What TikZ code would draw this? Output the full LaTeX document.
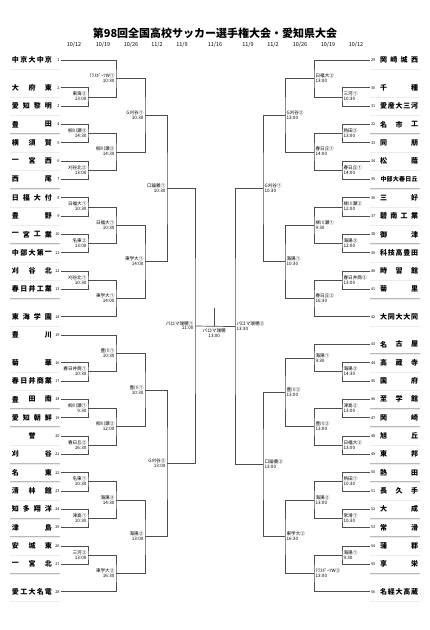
\documentclass[tikz,border=0pt]{standalone}
\usepackage{fontspec}
\setmainfont{Noto Sans CJK JP}
\usetikzlibrary{calc}

% spread the characters of a school name over a fixed width
\newcommand\spreadname[5]{%
  \foreach \c [count=\k] in #5 {\xdef\nch{\k}}
  \ifnum\nch>5 \def\nmsize{6}\else\def\nmsize{7}\fi
  \ifnum\nch=1
    \node[teamname] (#1-1) at ({(#2+#3)/2},#4) {#5};
  \else
    \foreach \c [count=\k] in #5 {
      \node[teamname] (#1-\k) at ({#2+(\k-1)*(#3-#2)/(\nch-1)},#4) {\c};
    }
  \fi
}

% one match: name, x of the joint, upper, lower, venue, time, side (l/r)
\newcommand\bout[7]{%
  \path let \p1=(#3), \p2=(#4) in (#2,{0.5*(\y1+\y2)}) coordinate (#1);
  \draw[bracket] (#3) -| (#1) |- (#4);
  \if#7l
    \node[venue, anchor=south east] (#1-v) at ([xshift=-1pt]#1) {#5};
    \node[venue, anchor=north east] (#1-t) at ([xshift=-1pt]#1) {#6};
  \else
    \node[venue, anchor=south west] (#1-v) at ([xshift=1pt]#1) {#5};
    \node[venue, anchor=north west] (#1-t) at ([xshift=1pt]#1) {#6};
  \fi
}

\begin{document}
\begin{tikzpicture}[
    x=1pt, y=-1pt,
    bracket/.style={draw=black!70, line width=0.7pt},
    teamname/.style={font=\fontsize{\nmsize}{7}\selectfont\bfseries, inner sep=0pt},
    teamno/.style={font=\fontsize{3.8}{4}\selectfont, inner sep=0.3pt},
    venue/.style={font=\fontsize{4.6}{5}\selectfont, inner sep=0.4pt},
    datelbl/.style={font=\fontsize{5.5}{6}\selectfont, inner sep=0pt},
    uline/.style={draw=gray!55, double=gray!15, double distance=0.5pt, line width=0.4pt},
  ]
  \useasboundingbox (0,0) rectangle (430,630);

  % Title and dates
  \node[font=\fontsize{11}{12}\selectfont\bfseries, inner sep=0pt] (title) at (215,33)
    {第98回全国高校サッカー選手権大会・愛知県大会};
  \foreach \d/\dx [count=\i] in {{10/12}/74, {10/19}/103, {10/26}/131, {11/2}/157, {11/9}/182,
      {11/16}/215, {11/9}/248, {11/2}/273, {10/26}/300, {10/19}/328, {10/12}/356} {
    \node[datelbl] (date\i) at (\dx,45) {\d};
  }

  % --- Left block: teams 1-28 ---
  \foreach \n/\s/\nm in {1/-1.5/{中,京,大,中,京}, 2/0/{大,府,東}, 3/1/{愛,知,黎,明},
      4/2/{豊,田}, 5/3/{横,須,賀}, 6/4/{一,宮,西}, 7/5/{西,尾}, 8/6/{日,福,大,付},
      9/7/{豊,野}, 10/8/{一,宮,工,業}, 11/9/{中,部,大,第,一}, 12/10/{刈,谷,北},
      13/11/{春,日,井,工,業}, 14/12.5/{東,海,学,園}, 15/13.5/{豊,川},
      16/15/{菊,華}, 17/16/{春,日,井,商,業}, 18/17/{豊,田,南}, 19/18/{愛,知,朝,鮮},
      20/19/{誉}, 21/20/{刈,谷}, 22/21/{名,東}, 23/22/{清,林,館}, 24/23/{知,多,翔,洋},
      25/24/{津,島}, 26/25/{安,城,東}, 27/26/{一,宮,北}, 28/27.5/{愛,工,大,名,電}} {
    \pgfmathsetmacro\ty{87.7+18.33*\s}
    \spreadname{ln\n}{15.5}{48.5}{\ty}{\nm}
    \node[teamno, anchor=east] (no\n) at (60,\ty) {\n};
    \coordinate (L\n) at (61,\ty);
    \ifnum\n=15 \else
      \draw[uline] (10,{\ty+9.5}) -- (60,{\ty+9.5});
    \fi
  }

  % --- Right block: teams 29-56 ---
  \foreach \n/\s/\nm in {29/-1.5/{岡,崎,城,西}, 30/0/{千,種}, 31/1/{愛,産,大,三,河},
      32/2/{名,市,工}, 33/3/{同,朋}, 34/4/{松,蔭}, 35/5/{中,部,大,春,日,丘},
      36/6/{三,好}, 37/7/{碧,南,工,業}, 38/8/{御,津}, 39/9/{科,技,高,豊,田},
      40/10/{時,習,館}, 41/11/{菊,里}, 42/12.5/{大,同,大,大,同}, 43/14/{名,古,屋},
      44/15/{高,蔵,寺}, 45/16/{国,府}, 46/17/{至,学,館}, 47/18/{岡,崎}, 48/19/{旭,丘},
      49/20/{東,邦}, 50/21/{熱,田}, 51/22/{長,久,手}, 52/23/{大,成}, 53/24/{常,滑},
      54/25/{蒲,郡}, 55/26/{享,栄}, 56/27.5/{名,経,大,高,蔵}} {
    \pgfmathsetmacro\ty{87.7+18.33*\s}
    \spreadname{rn\n}{383.5}{414.5}{\ty}{\nm}
    \node[teamno, anchor=west] (no\n) at (370.5,\ty) {\n};
    \coordinate (R\n) at (369.5,\ty);
    \draw[uline] (370,{\ty+9.5}) -- (420,{\ty+9.5});
  }

  % --- Left bracket ---
  \bout{a23}{88}{L2}{L3}{東海②}{13:00}{l}
  \bout{a45}{88}{L4}{L5}{柳川瀬③}{14:30}{l}
  \bout{a67}{88}{L6}{L7}{刈谷北②}{13:00}{l}
  \bout{a89}{88}{L8}{L9}{日福大①}{10:30}{l}
  \bout{a1011}{88}{L10}{L11}{名東②}{13:00}{l}
  \bout{a1213}{88}{L12}{L13}{刈谷北①}{10:30}{l}
  \bout{a1617}{88}{L16}{L17}{春日井商①}{10:30}{l}
  \bout{a1819}{88}{L18}{L19}{柳川瀬①}{9:30}{l}
  \bout{a2021}{88}{L20}{L21}{春日丘②}{16:30}{l}
  \bout{a2223}{88}{L22}{L23}{名東①}{10:30}{l}
  \bout{a2425}{88}{L24}{L25}{津島①}{10:30}{l}
  \bout{a2627}{88}{L26}{L27}{三河②}{13:00}{l}

  \bout{b1}{116}{L1}{a23}{ﾃﾗｽﾎﾟｰﾂW①}{10:30}{l}
  \bout{b2}{116}{a45}{a67}{柳川瀬②}{14:30}{l}
  \bout{b3}{116}{a89}{a1011}{日福大①}{10:30}{l}
  \bout{b4}{116}{a1213}{L14}{東学大①}{14:00}{l}
  \bout{b5}{116}{L15}{a1617}{豊川①}{10:30}{l}
  \bout{b6}{116}{a1819}{a2021}{柳川瀬②}{12:00}{l}
  \bout{b7}{116}{a2223}{a2425}{海陽③}{14:30}{l}
  \bout{b8}{116}{a2627}{L28}{東学大②}{16:30}{l}

  \bout{c1}{145}{b1}{b2}{G刈谷①}{10:30}{l}
  \bout{c2}{145}{b3}{b4}{東学大①}{14:00}{l}
  \bout{c3}{145}{b5}{b6}{豊川①}{10:30}{l}
  \bout{c4}{145}{b7}{b8}{海陽②}{13:00}{l}

  \bout{d1}{167}{c1}{c2}{口論義①}{10:30}{l}
  \bout{d2}{167}{c3}{c4}{G刈谷②}{13:00}{l}

  \bout{e1}{195}{d1}{d2}{パロマ瑞穂①}{11:00}{l}

  % --- Right bracket ---
  \bout{p3031}{342}{R30}{R31}{三河①}{10:30}{r}
  \bout{p3233}{342}{R32}{R33}{熱田②}{13:00}{r}
  \bout{p3435}{342}{R34}{R35}{春日丘①}{14:00}{r}
  \bout{p3637}{342}{R36}{R37}{柳川瀬②}{12:00}{r}
  \bout{p3839}{342}{R38}{R39}{海陽③}{12:00}{r}
  \bout{p4041}{342}{R40}{R41}{春日井商②}{13:00}{r}
  \bout{p4445}{342}{R44}{R45}{海陽③}{14:30}{r}
  \bout{p4647}{342}{R46}{R47}{津島②}{13:00}{r}
  \bout{p4849}{342}{R48}{R49}{日福大②}{13:00}{r}
  \bout{p5051}{342}{R50}{R51}{熱田①}{10:30}{r}
  \bout{p5253}{342}{R52}{R53}{常滑①}{10:30}{r}
  \bout{p5455}{342}{R54}{R55}{海陽①}{9:30}{r}

  \bout{q1}{314}{R29}{p3031}{日福大②}{13:00}{r}
  \bout{q2}{314}{p3233}{p3435}{春日丘①}{14:00}{r}
  \bout{q3}{314}{p3637}{p3839}{柳川瀬①}{9:30}{r}
  \bout{q4}{314}{p4041}{R42}{春日丘②}{16:30}{r}
  \bout{q5}{314}{R43}{p4445}{海陽①}{9:30}{r}
  \bout{q6}{314}{p4647}{p4849}{豊川②}{13:00}{r}
  \bout{q7}{314}{p5051}{p5253}{海陽②}{13:00}{r}
  \bout{q8}{314}{p5455}{R56}{ﾃﾗｽﾎﾟｰﾂW②}{13:00}{r}

  \bout{s1}{285}{q1}{q2}{G刈谷②}{13:00}{r}
  \bout{s2}{285}{q3}{q4}{海陽①}{10:30}{r}
  \bout{s3}{285}{q5}{q6}{豊川②}{13:00}{r}
  \bout{s4}{285}{q7}{q8}{東学大②}{16:30}{r}

  \bout{t1}{263}{s1}{s2}{G刈谷①}{10:30}{r}
  \bout{t2}{263}{s3}{s4}{口論義②}{13:00}{r}

  \bout{u1}{235}{t1}{t2}{パロマ瑞穂②}{13:30}{r}

  % --- Final ---
  \draw[bracket] (e1) -- (u1);
  \path (e1) -- (u1) coordinate[pos=0.48] (fin);
  \coordinate (champ) at ([yshift=18pt]fin);
  \draw[bracket] (fin) -- (champ);
  \node[venue, align=center, anchor=north] (finlbl) at ([yshift=-1.5pt]fin) {パロマ瑞穂\\13:00};

\end{tikzpicture}
\end{document}
